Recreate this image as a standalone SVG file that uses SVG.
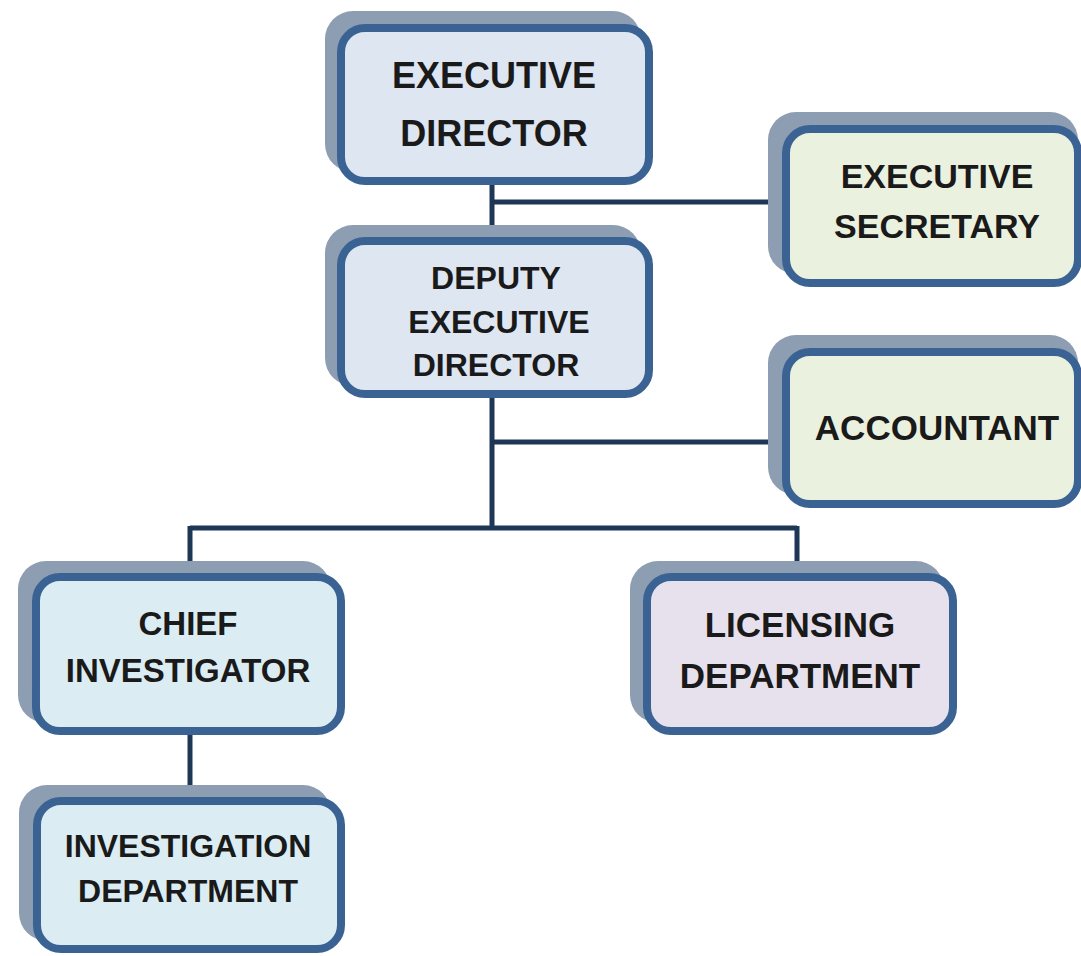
<svg xmlns="http://www.w3.org/2000/svg" width="1081" height="956" viewBox="0 0 1081 956">
<style>
.shadow{fill:#8d9db2;}
.box{stroke:#3a6394;stroke-width:8;}
.blue{fill:#dde6f1;}
.green{fill:#ebf1df;}
.cyan{fill:#dbedf3;}
.violet{fill:#e6e1ed;}
.conn{stroke:#1e3757;stroke-width:5;fill:none;}
text{font-family:"Liberation Sans",Arial,sans-serif;font-weight:bold;fill:#1a1a1a;text-anchor:middle;}
</style>
<rect width="1081" height="956" fill="#ffffff"/>
<g id="connectors">
<path class="conn" d="M492 185 V239 M492 202 H784"/>
<path class="conn" d="M492 398 V528 M492 442 H784 M190 528 H797 M190 526 V575 M797 526 V575"/>
<path class="conn" d="M190 735 V799"/>
</g>
<g id="executive-director">
<rect class="shadow" x="325" y="11" width="316" height="161" rx="28"/>
<rect class="box blue" x="341" y="28" width="308" height="153" rx="24"/>
<text x="494" y="88" font-size="36">EXECUTIVE</text>
<text x="494" y="146" font-size="36">DIRECTOR</text>
</g>
<g id="executive-secretary">
<rect class="shadow" x="768" y="112" width="310" height="162" rx="28"/>
<rect class="box green" x="786" y="129" width="292" height="154" rx="24"/>
<text x="937" y="188" font-size="34">EXECUTIVE</text>
<text x="937" y="238" font-size="34">SECRETARY</text>
</g>
<g id="deputy-executive-director">
<rect class="shadow" x="325" y="225" width="316" height="161" rx="28"/>
<rect class="box blue" x="341" y="241" width="308" height="153" rx="24"/>
<text x="496" y="289" font-size="32">DEPUTY</text>
<text x="499" y="333" font-size="32">EXECUTIVE</text>
<text x="496" y="376" font-size="32">DIRECTOR</text>
</g>
<g id="accountant">
<rect class="shadow" x="768" y="335" width="310" height="160" rx="28"/>
<rect class="box green" x="786" y="352" width="292" height="152" rx="24"/>
<text x="937" y="440" font-size="35">ACCOUNTANT</text>
</g>
<g id="chief-investigator">
<rect class="shadow" x="18" y="561" width="313" height="162" rx="28"/>
<rect class="box cyan" x="36" y="577" width="305" height="154" rx="24"/>
<text x="188" y="635" font-size="33">CHIEF</text>
<text x="188" y="682" font-size="33">INVESTIGATOR</text>
</g>
<g id="licensing-department">
<rect class="shadow" x="630" y="561" width="314" height="162" rx="28"/>
<rect class="box violet" x="647" y="577" width="306" height="154" rx="24"/>
<text x="800" y="637" font-size="35">LICENSING</text>
<text x="800" y="688" font-size="35">DEPARTMENT</text>
</g>
<g id="investigation-department">
<rect class="shadow" x="19" y="785" width="312" height="156" rx="28"/>
<rect class="box cyan" x="37" y="801" width="304" height="148" rx="24"/>
<text x="188" y="857" font-size="32">INVESTIGATION</text>
<text x="188" y="902" font-size="32">DEPARTMENT</text>
</g>
</svg>
